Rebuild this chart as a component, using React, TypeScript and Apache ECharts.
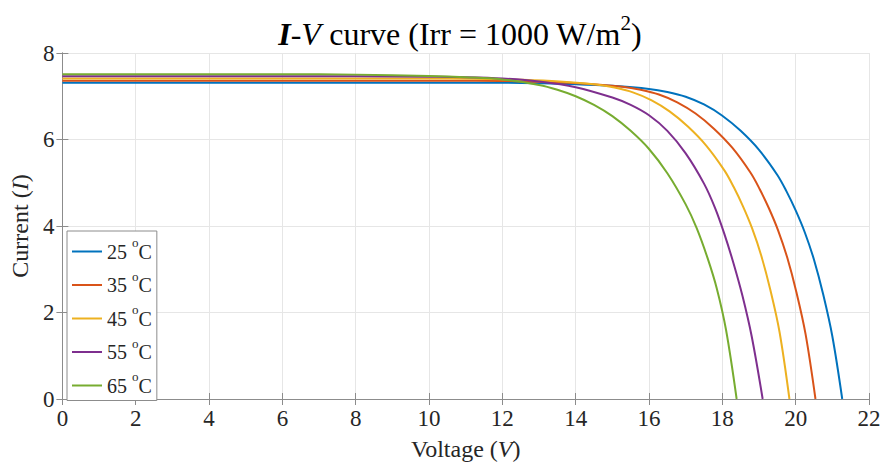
import React, { useEffect, useRef } from "react";
import * as echarts from "echarts";

const seriesNames = ["25", "35", "45", "55", "65"];
const colors = ["#0072BD", "#D95319", "#EDB120", "#7E2F8E", "#77AC30"];

// [voltage (V), current (A)]
const curve25: number[][] = [[0,7.31],[8,7.31],[12,7.31],[13,7.30],[14,7.28],[15,7.24],[16,7.17],[16.5,7.1],[17,6.99],[17.5,6.81],[18,6.55],[18.5,6.2],[19,5.76],[19.5,5.18],[19.75,4.8],[20,4.36],[20.25,3.85],[20.5,3.22],[20.75,2.42],[21,1.45],[21.27,0]];
const curve35: number[][] = [[0,7.36],[8,7.36],[11.27,7.36],[12.27,7.35],[13.27,7.33],[14.27,7.29],[15.27,7.22],[15.77,7.15],[16.27,7.04],[16.77,6.86],[17.27,6.6],[17.77,6.25],[18.27,5.81],[18.77,5.23],[19.02,4.85],[19.27,4.41],[19.52,3.9],[19.77,3.27],[20.02,2.47],[20.27,1.5],[20.54,0]];
const curve45: number[][] = [[0,7.41],[8,7.41],[10.56,7.41],[11.56,7.40],[12.56,7.38],[13.56,7.34],[14.56,7.27],[15.06,7.2],[15.56,7.09],[16.06,6.91],[16.56,6.65],[17.06,6.3],[17.56,5.86],[18.06,5.28],[18.31,4.9],[18.56,4.46],[18.81,3.95],[19.06,3.32],[19.31,2.52],[19.56,1.55],[19.83,0]];
const curve55: number[][] = [[0,7.46],[8,7.46],[10,7.45],[11,7.44],[12,7.41],[13,7.34],[14,7.21],[15,6.97],[15.5,6.8],[16,6.56],[16.5,6.2],[17,5.68],[17.5,4.98],[17.8,4.42],[18.05,3.83],[18.3,3.15],[18.55,2.38],[18.8,1.45],[19.1,0]];
const curve65: number[][] = [[0,7.51],[6,7.51],[8,7.5],[10,7.47],[11,7.44],[12,7.39],[13,7.26],[13.5,7.15],[14,7.0],[14.5,6.8],[15,6.54],[15.5,6.2],[16,5.78],[16.5,5.22],[17,4.5],[17.3,3.95],[17.6,3.25],[17.85,2.55],[18.1,1.6],[18.39,0]];
const curves = [curve25, curve35, curve45, curve55, curve65];

const xTicks = { min: 0, max: 22, interval: 2 };
const yTicks = { min: 0, max: 8, interval: 2 };

const FONT = "'Liberation Serif', 'Times New Roman', serif";
const TXT = "#262626";

export default function App() {
  const ref = useRef<HTMLDivElement>(null);
  useEffect(() => {
    if (!ref.current) return;
    const chart = echarts.init(ref.current, undefined, { renderer: "svg" });
    const axisCommon = {
      axisLine: { show: true, lineStyle: { color: "#8c8c8c", width: 1 } },
      axisTick: { show: true, inside: true, length: 6, lineStyle: { color: "#8c8c8c" } },
    };
    chart.setOption({
      animation: false,
      backgroundColor: "#ffffff",
      textStyle: { fontFamily: FONT },
      graphic: [
        {
          type: "text",
          x: 460,
          y: 34,
          style: {
            text: "{bi|I}{n|-}{i|V}{n| curve (Irr = 1000 W/m}{sup|2}{n|)}",
            align: "center",
            verticalAlign: "middle",
            fill: "#000",
            rich: {
              bi: { fontFamily: FONT, fontSize: 32, fontWeight: "bold", fontStyle: "italic", fill: "#000" },
              i: { fontFamily: FONT, fontSize: 32, fontStyle: "italic", fill: "#000" },
              n: { fontFamily: FONT, fontSize: 32, fill: "#000" },
              sup: { fontFamily: FONT, fontSize: 21, fill: "#000", padding: [0, 0, 22, 0] },
            },
          },
        },
      ],
      grid: { left: 58, right: 15, top: 53, bottom: 66, containLabel: false },
      legend: {
        orient: "vertical",
        left: 67,
        top: 231,
        icon: "rect",
        itemWidth: 30,
        itemHeight: 2,
        itemGap: 8,
        padding: [5, 5, 5, 5],
        borderColor: "#8c8c8c",
        borderWidth: 1,
        backgroundColor: "#ffffff",
        data: seriesNames.map((n) => n),
        formatter: (name: string) => `{n|${name} }{sup|o}{n|C}`,
        textStyle: {
          rich: {
            n: { fontFamily: FONT, fontSize: 20, color: TXT },
            sup: { fontFamily: FONT, fontSize: 13, color: TXT, padding: [0, 0, 18, 0] },
          },
        },
      },
      xAxis: [
        {
          type: "value",
          min: xTicks.min,
          max: xTicks.max,
          interval: xTicks.interval,
          position: "bottom",
          name: "{n|Voltage (}{i|V}{n|)}",
          nameLocation: "middle",
          nameGap: 38,
          nameTextStyle: {
            rich: {
              n: { fontFamily: FONT, fontSize: 24, color: TXT },
              i: { fontFamily: FONT, fontSize: 24, fontStyle: "italic", color: TXT },
            },
          },
          axisLabel: { fontFamily: FONT, fontSize: 23, color: TXT, margin: 8 },
          splitLine: { show: true, lineStyle: { color: "#e6e6e6", width: 1 } },
          ...axisCommon,
        },
        {
          type: "value",
          min: xTicks.min,
          max: xTicks.max,
          interval: xTicks.interval,
          position: "top",
          axisLabel: { show: false },
          splitLine: { show: false },
          ...axisCommon,
        },
      ],
      yAxis: [
        {
          type: "value",
          min: yTicks.min,
          max: yTicks.max,
          interval: yTicks.interval,
          position: "left",
          name: "{n|Current (}{i|I}{n|)}",
          nameLocation: "middle",
          nameGap: 25,
          nameTextStyle: {
            rich: {
              n: { fontFamily: FONT, fontSize: 24, color: TXT },
              i: { fontFamily: FONT, fontSize: 24, fontStyle: "italic", color: TXT },
            },
          },
          axisLabel: { fontFamily: FONT, fontSize: 23, color: TXT, margin: 8 },
          splitLine: { show: true, lineStyle: { color: "#e6e6e6", width: 1 } },
          ...axisCommon,
        },
        {
          type: "value",
          min: yTicks.min,
          max: yTicks.max,
          interval: yTicks.interval,
          position: "right",
          axisLabel: { show: false },
          splitLine: { show: false },
          ...axisCommon,
        },
      ],
      series: curves.map((data, i) => ({
        name: seriesNames[i],
        type: "line",
        xAxisIndex: 0,
        yAxisIndex: 0,
        data,
        symbol: "none",
        smooth: 0.35,
        lineStyle: { color: colors[i], width: 2 },
        itemStyle: { color: colors[i] },
      })),
    });
    return () => chart.dispose();
  }, []);
  return (
    <div
      ref={ref}
      style={{ position: "absolute", left: 0, top: 0, width: 884, height: 466 }}
    />
  );
}
